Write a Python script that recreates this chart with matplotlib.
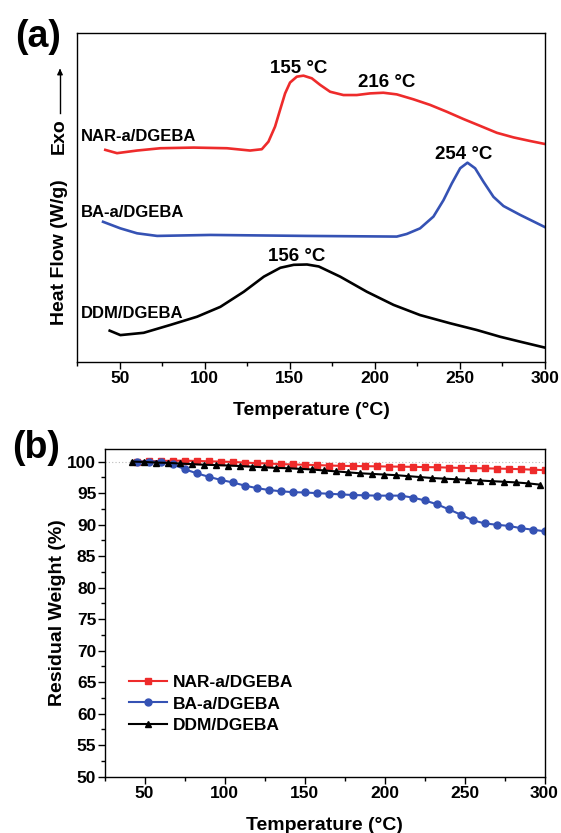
import matplotlib
matplotlib.use("Agg")
import matplotlib.pyplot as plt
from matplotlib.ticker import MultipleLocator

plt.rcParams["font.family"] = ["Liberation Sans", "DejaVu Sans"]
plt.rcParams["font.weight"] = "bold"

RED = "#ee2b2b"
BLUE = "#3552b4"
BLACK = "#000000"

# (a) DSC curves, heat flow in arbitrary units (0-100 across the panel)
nar_dsc_t = [41.4, 48.3, 60.1, 73.8, 93.4, 113, 126.6, 133.5, 137.4, 141.3, 144.2, 147.2,
             150.1, 154.1, 158, 162.9, 167.8, 173.7, 181.5, 189.4, 197.2, 205, 212.9,
             222.7, 232.5, 242.4, 252.1, 262, 271.8, 281.6, 291.4, 300]
nar_dsc_hf = [64.5, 63.5, 64.3, 65.0, 65.2, 65.0, 64.3, 64.7, 67.0, 71.6, 76.6, 81.7,
              85.0, 86.8, 87.1, 86.3, 84.3, 82.2, 81.2, 81.2, 81.7, 81.9, 81.4,
              79.9, 78.2, 76.1, 73.9, 71.8, 69.7, 68.3, 67.2, 66.3]

ba_dsc_t = [40.1, 50.3, 60.1, 71.9, 103.2, 160.1, 212.9, 218.8, 226.6, 234.5, 240.4,
            245.3, 250.2, 254.5, 259, 263.9, 269.8, 275.7, 285.5, 300]
ba_dsc_hf = [42.6, 40.6, 39.1, 38.3, 38.6, 38.3, 38.1, 38.9, 40.6, 44.2, 49.2,
             54.3, 58.9, 60.6, 58.9, 54.8, 50.2, 47.4, 44.7, 41.0]

ddm_dsc_t = [44, 50.3, 64, 79.7, 95.4, 109.1, 122.9, 134.7, 144.4, 152.3, 160.1, 167,
             179.6, 195.3, 211, 226.6, 244.3, 260, 273.7, 285.5, 300]
ddm_dsc_hf = [9.45, 8.1, 8.8, 11.2, 13.7, 16.7, 21.3, 25.9, 28.6, 29.5, 29.6, 29.0,
              25.9, 21.3, 17.3, 14.2, 11.7, 9.65, 7.6, 6.1, 4.3]

dsc_names = ["NAR-a/DGEBA", "BA-a/DGEBA", "DDM/DGEBA"]
name_t = [27.1, 27.1, 27.1]
name_hf = [68.5, 45.4, 14.7]
peak_labels = ["155 °C", "216 °C", "254 °C", "156 °C"]
peak_t = [155, 207, 252, 154]
peak_hf = [89.2, 85.0, 63.2, 32.0]

# (b) TGA curves, residual weight (%)
nar_tga_t = [45, 52.5, 60, 67.5, 75, 82.5, 90, 97.5, 105, 112.5, 120, 127.5, 135, 142.5,
             150, 157.5, 165, 172.5, 180, 187.5, 195, 202.5, 210, 217.5, 225, 232.5,
             240, 247.5, 255, 262.5, 270, 277.5, 285, 292.5, 300]
nar_tga_w = [100.0, 100.05, 100.1, 100.15, 100.15, 100.1, 100.05, 100.0, 99.95, 99.85,
             99.75, 99.7, 99.6, 99.55, 99.5, 99.45, 99.38, 99.33, 99.3, 99.27, 99.25,
             99.22, 99.2, 99.17, 99.13, 99.1, 99.05, 99.0, 98.97, 98.93, 98.9, 98.85,
             98.8, 98.72, 98.65]

ba_tga_t = nar_tga_t
ba_tga_w = [100.0, 100.0, 100.0, 99.6, 98.8, 98.15, 97.6, 97.1, 96.7, 96.2, 95.8, 95.5,
            95.3, 95.15, 95.1, 95.0, 94.9, 94.8, 94.7, 94.65, 94.6, 94.6, 94.6, 94.3,
            93.85, 93.25, 92.45, 91.6, 90.7, 90.2, 89.98, 89.8, 89.45, 89.2, 88.95]

ddm_tga_t = [42, 49.5, 57, 64.5, 72, 79.5, 87, 94.5, 102, 109.5, 117, 124.5, 132, 139.5,
             147, 154.5, 162, 169.5, 177, 184.5, 192, 199.5, 207, 214.5, 222, 229.5,
             237, 244.5, 252, 259.5, 267, 274.5, 282, 289.5, 297]
ddm_tga_w = [100.0, 99.95, 99.85, 99.8, 99.7, 99.6, 99.5, 99.45, 99.38, 99.3, 99.2, 99.1,
             99.0, 98.95, 98.85, 98.75, 98.6, 98.45, 98.3, 98.15, 98.05, 97.95, 97.85,
             97.7, 97.55, 97.4, 97.3, 97.2, 97.1, 97.0, 96.9, 96.8, 96.7, 96.55, 96.35]

W, H = 561, 833
fig = plt.figure(figsize=(W / 100, H / 100), dpi=100)


def fx(px):
    return px / W


def fy(py):
    return 1 - py / H


def style_axis(axis):
    for spine in axis.spines.values():
        spine.set_linewidth(1.0)
    axis.set_xlim(25, 300)
    axis.xaxis.set_major_locator(MultipleLocator(50))
    axis.xaxis.set_minor_locator(MultipleLocator(25))
    axis.tick_params(axis="x", which="major", direction="out", length=5, width=1,
                     labelsize=12.5, pad=2, top=False)
    axis.tick_params(axis="x", which="minor", direction="out", length=3, width=1, top=False)
    for label in axis.get_xticklabels():
        label.set_fontweight("bold")


def fig_label(px, py, text, **kwargs):
    fig.text(fx(px), fy(py), text, fontweight="bold", ha="center", va="center", **kwargs)


# ---- panel (a)
ax_a = fig.add_axes([fx(77.4), fy(361.7), fx(544.8) - fx(77.4), fy(33.3) - fy(361.7)])
style_axis(ax_a)
ax_a.set_ylim(0, 100)
ax_a.set_yticks([])
ax_a.plot(nar_dsc_t, nar_dsc_hf, color=RED, lw=1.9)
ax_a.plot(ba_dsc_t, ba_dsc_hf, color=BLUE, lw=1.9)
ax_a.plot(ddm_dsc_t, ddm_dsc_hf, color=BLACK, lw=1.9)

for name, t, hf in zip(dsc_names, name_t, name_hf):
    ax_a.text(t, hf, name, fontsize=12, fontweight="bold", ha="left", va="center")
for label, t, hf in zip(peak_labels, peak_t, peak_hf):
    ax_a.text(t, hf, label, fontsize=13.5, fontweight="bold", ha="center", va="center")

fig_label(311, 411, "Temperature (°C)", fontsize=14)
fig_label(59, 252, "Heat Flow (W/g)", fontsize=14, rotation=90)
fig_label(59, 136, "Exo", fontsize=14, rotation=90)
fig.add_artist(plt.Line2D([fx(60), fx(60)], [fy(113), fy(72)], color="black", lw=1))
ax_a.annotate("", xy=(fx(60), fy(66)), xytext=(fx(60), fy(74)), xycoords="figure fraction",
              arrowprops=dict(arrowstyle="-|>", color="black", lw=1, mutation_scale=8))
fig_label(38.5, 37, "(a)", fontsize=27)

# ---- panel (b)
ax_b = fig.add_axes([fx(104.6), fy(776.7), fx(544.5) - fx(104.6), fy(449) - fy(776.7)])
style_axis(ax_b)
ax_b.set_ylim(50, 102)
ax_b.yaxis.set_major_locator(MultipleLocator(5))
ax_b.yaxis.set_minor_locator(MultipleLocator(2.5))
ax_b.tick_params(axis="y", which="major", direction="out", length=5, width=1,
                 labelsize=12.5, pad=1, right=False)
ax_b.tick_params(axis="y", which="minor", direction="out", length=3, width=1, right=False)
for label in ax_b.get_yticklabels():
    label.set_fontweight("bold")
ax_b.axhline(100, color="#bbbbbb", lw=0.8, ls=(0, (1, 2)), zorder=0)

ax_b.plot(nar_tga_t, nar_tga_w, color=RED, lw=1.5, marker="s", ms=4.5, label=dsc_names[0])
ax_b.plot(ba_tga_t, ba_tga_w, color=BLUE, lw=1.5, marker="o", ms=5, label=dsc_names[1])
ax_b.plot(ddm_tga_t, ddm_tga_w, color=BLACK, lw=1.5, marker="^", ms=5, label=dsc_names[2])

ax_b.legend(loc="center left", bbox_to_anchor=(0.056, 0.222), frameon=False,
            handlelength=2.2, handletextpad=0.3, labelspacing=0.35,
            borderaxespad=0, borderpad=0,
            prop={"size": 12.5, "weight": "bold"})

fig_label(324.5, 825, "Temperature (°C)", fontsize=14)
fig_label(58, 613, "Residual Weight (%)", fontsize=14, rotation=90)
fig_label(36, 448, "(b)", fontsize=27)

fig.savefig("out.png", dpi=100)
